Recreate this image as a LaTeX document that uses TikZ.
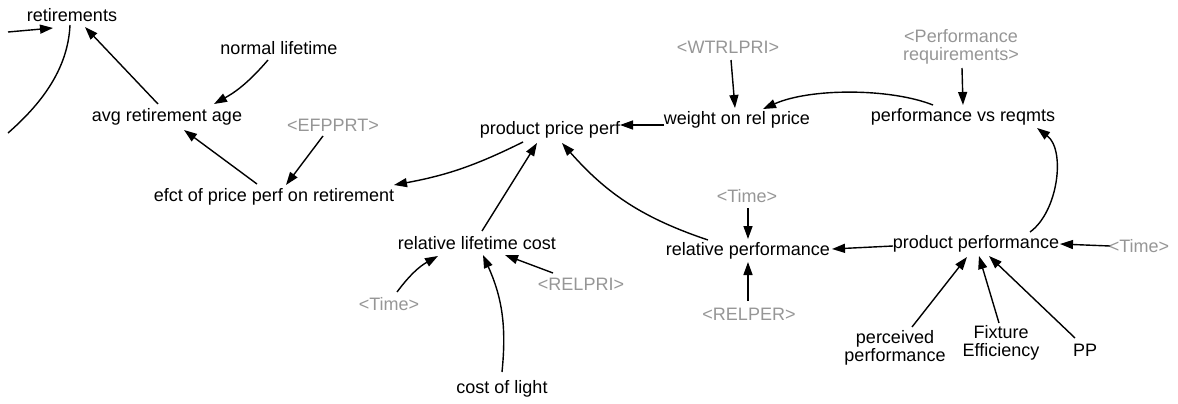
\documentclass[tikz,border=0pt]{standalone}
\usepackage{fontspec}
\setmainfont{Liberation Sans}
\usetikzlibrary{arrows.meta,calc}
\definecolor{shadowgray}{RGB}{150,150,150}
\begin{document}
\begin{tikzpicture}[x=1pt,y=-1pt,
  var/.style={font=\fontsize{18}{18}\selectfont, inner sep=1pt, align=center, text=black},
  shadow/.style={var, text=shadowgray},
  link/.style={line width=1.4pt, -{Triangle[length=13pt,width=9pt]}},
  plain/.style={line width=1.4pt}]
\path[use as bounding box] (0,0) rectangle (1178,404);

% variables
\node[var] (ret) at (72,15) {retirements};
\node[var] (nl) at (279,48) {normal lifetime};
\node[var] (avg) at (167,117) {avg retirement age};
\node[shadow] (efp) at (333,125) {<EFPPRT>};
\node[var] (efct) at (274,197) {efct of price perf on retirement};
\node[var] (ppp) at (550,130) {product price perf};
\node[shadow] (wtr) at (728,47) {<WTRLPRI>};
\node[var] (worp) at (737,120) {weight on rel price};
\node[shadow] (preq) at (961,47) {<Performance\\requirements>};
\node[var] (pvr) at (963,117) {performance vs reqmts};
\node[shadow] (timeA) at (747,196) {<Time>};
\node[var] (rlc) at (477,243) {relative lifetime cost};
\node[var] (rp) at (748,251) {relative performance};
\node[shadow] (timeB) at (389,304) {<Time>};
\node[shadow] (relpri) at (581,284) {<RELPRI>};
\node[var] (col) at (502,389) {cost of light};
\node[shadow] (relper) at (749,314) {<RELPER>};
\node[var] (pperf) at (976,244) {product performance};
\node[shadow] (timeC) at (1139,246) {<Time>};
\node[var] (perc) at (895,348) {perceived\\performance};
\node[var] (fix) at (1001,343) {Fixture\\Efficiency};
\node[var] (pp) at (1085,350) {PP};

% loose ends of the retirement flow
\coordinate (inflow) at (8,32);
\coordinate (outcurve) at (8,133);

% connectors
\draw[link] (inflow) -- ($(ret)+(-19,13)$);
\draw[plain] ($(ret)+(-2,10)$) .. controls (68,70) and (40,105) .. (outcurve);
\draw[link] ($(avg)+(-9,-13)$) -- ($(ret)+(13,12)$);
\draw[link] ($(nl)+(-11,12)$) to[bend left=10] ($(avg)+(47,-13)$);
\draw[link] ($(efct)+(-17,-13)$) -- ($(avg)+(17,13)$);
\draw[link] ($(efp)+(-10,11)$) -- ($(efct)+(12,-12)$);
\draw[link] ($(ppp)+(-27,12)$) to[bend left=8] ($(efct)+(120,-12)$);
\draw[link] ($(rlc)+(5,-12)$) -- ($(ppp)+(-13,13)$);
\draw[link] ($(rp)+(-40,-11)$) to[bend left=15] ($(ppp)+(12,13)$);
\draw[link] ($(worp)+(-73,5)$) -- ($(ppp)+(70,-5)$);
\draw[link] ($(wtr)+(3,13)$) -- ($(worp)+(-2,-12)$);
\draw[link] ($(pvr)+(-30,-12)$) .. controls (890,88) and (810,88) .. ($(worp)+(26,-11)$);
\draw[link] ($(preq)+(1,21)$) -- ($(pvr)+(0,-12)$);
\draw[link] ($(pperf)+(54,-12)$) .. controls (1058,212) and (1066,150) .. ($(pvr)+(74,11)$);
\draw[link] ($(timeA)+(1,12)$) -- ($(rp)+(0,-12)$);
\draw[link] ($(relper)+(-1,-13)$) -- ($(rp)+(0,11)$);
\draw[link] ($(pperf)+(-83,2)$) -- ($(rp)+(84,-2)$);
\draw[link] ($(timeC)+(-29,0)$) -- ($(pperf)+(84,0)$);
\draw[link] ($(perc)+(17,-21)$) -- ($(pperf)+(-9,13)$);
\draw[link] ($(fix)+(-2,-20)$) -- ($(pperf)+(3,12)$);
\draw[link] ($(pp)+(-10,-12)$) -- ($(pperf)+(13,12)$);
\draw[link] ($(timeB)+(8,-12)$) to[bend left=12] ($(rlc)+(-39,13)$);
\draw[link] ($(relpri)+(-28,-11)$) -- ($(rlc)+(28,12)$);
\draw[link] ($(col)+(0,-17)$) to[bend right=15] ($(rlc)+(6,12)$);
\end{tikzpicture}
\end{document}
